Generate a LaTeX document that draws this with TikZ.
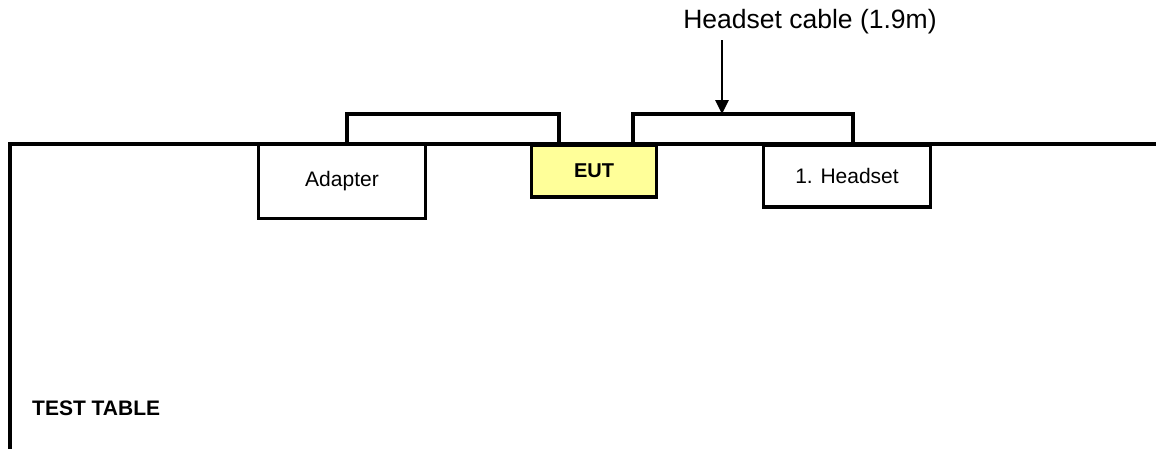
\documentclass[tikz,border=0pt]{standalone}
\usepackage{fontspec}
\setmainfont{Liberation Sans}
\usetikzlibrary{arrows.meta}
\definecolor{eutyellow}{HTML}{FFFF99}
\begin{document}
\begin{tikzpicture}[x=1pt,y=-1pt,
  unitbox/.style={draw=black,line width=3.6pt,fill=white,inner sep=0pt,font=\fontsize{21}{25}\selectfont},
  wire/.style={line width=3.8pt,line join=miter},
  lbl/.style={inner sep=0pt,font=\fontsize{26.5}{31}\selectfont}]
\useasboundingbox (0,0) rectangle (1156,448);
% test table
\coordinate (tl) at (10,144);
\coordinate (bl) at (10,452);
\coordinate (tr) at (1160,144);
\draw[wire] (bl) -- (tl) -- (tr);
% cables
\coordinate (c1a) at (347,144);
\coordinate (c1b) at (559,144);
\coordinate (c2a) at (633,144);
\coordinate (c2b) at (853,144);
\draw[wire] (c1a) -- ++(0,-30) -| (c1b);
\draw[wire] (c2a) -- ++(0,-30) coordinate (c2top) -| (c2b);
% units
\node[unitbox,minimum width=167pt,minimum height=74pt] (adapter) at (342,181.5) {Adapter};
\node[unitbox,fill=eutyellow,minimum width=125pt,minimum height=52pt,font=\fontsize{20}{24}\selectfont\bfseries] (eut) at (594,171) {EUT};
\node[unitbox,minimum width=167pt,minimum height=62pt] (headset) at (847,176) {\raisebox{-4pt}{1. Headset}};
% label
\node[lbl] (cablelbl) at (810,22) {Headset cable (1.9m)};
\coordinate (arrtip) at (722,114);
\draw[line width=2.8pt,-{Triangle[width=13pt,length=14pt]}] (722,40) -- (arrtip);
\node[anchor=west,inner sep=0pt,font=\fontsize{21}{25}\selectfont\bfseries] (tt) at (32,408) {TEST TABLE};
\end{tikzpicture}
\end{document}
